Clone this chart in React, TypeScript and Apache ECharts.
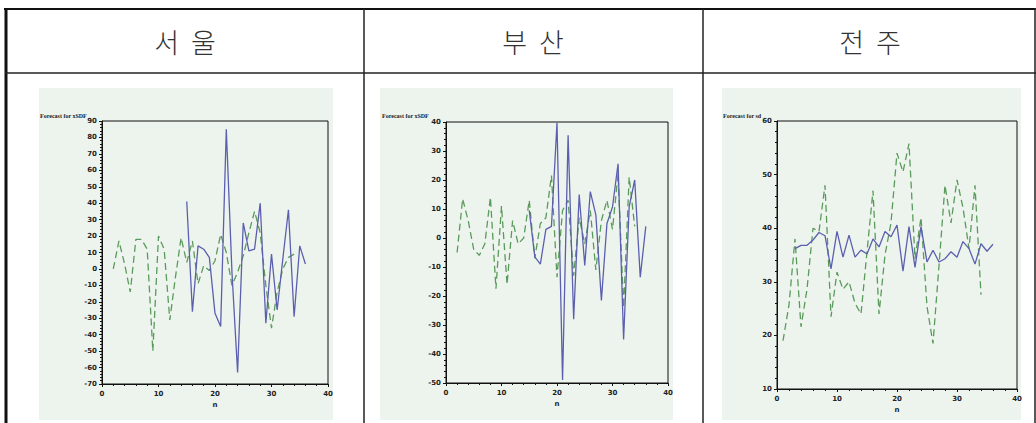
import React, { useEffect, useRef } from "react";
import * as echarts from "echarts";

// ---- data ----
const headers = ["서  울", "부  산", "전  주"];
const plotTitles = ["Forecast for xSDF", "Forecast for xSDF", "Forecast for sd"];

const seoulDashedN = [2, 3, 4, 5, 6, 7, 8, 9, 10, 11, 12, 13, 14, 15, 16, 17, 18, 19, 20, 21, 22, 23, 24, 25, 26, 27, 28, 29, 30, 31, 32, 33, 34];
const seoulDashed = [0, 17, 3, -14, 18, 18, 12, -50, 20, 12, -31, -5, 19, 4, 17, -9, 2, -1, 5, 21, 10, -10, -2, 8, 22, 35, 22, -10, -36, -14, 0, 7, 9];
const seoulSolidN = [15, 16, 17, 18, 19, 20, 21, 22, 23, 24, 25, 26, 27, 28, 29, 30, 31, 32, 33, 34, 35, 36];
const seoulSolid = [41, -26, 14, 12, 7, -27, -35, 85, -2, -63, 28, 11, 12, 40, -33, 9, -25, 6, 36, -29, 14, 3];

const busanDashedN = [2, 3, 4, 5, 6, 7, 8, 9, 10, 11, 12, 13, 14, 15, 16, 17, 18, 19, 20, 21, 22, 23, 24, 25, 26, 27, 28, 29, 30, 31, 32, 33, 34];
const busanDashed = [-5, 13.5, 6, -4, -6, -2, 14, -17.5, 11, -16, 6, -2, 0, 13, -7, 5, 7, 21.5, -13.5, 9.5, 13, -13, 7, -2, 9.5, -11, 6, 13, 3, 22, -24, 21, 4];
const busanSolidN = [15, 16, 17, 18, 19, 20, 21, 22, 23, 24, 25, 26, 27, 28, 29, 30, 31, 32, 33, 34, 35, 36];
const busanSolid = [9.5, -6.5, -9, 3, 4, 39.7, -49, 35.4, -28, 15, -9.5, 16, 8, -21.5, 5, 10.7, 25.6, -35, 10.7, 20, -13.5, 4];

const jeonjuDashedN = [1, 2, 3, 4, 5, 6, 7, 8, 9, 10, 11, 12, 13, 14, 15, 16, 17, 18, 19, 20, 21, 22, 23, 24, 25, 26, 27, 28, 29, 30, 31, 32, 33, 34];
const jeonjuDashed = [19, 25.7, 38, 21.6, 28.6, 40, 39.4, 48, 23.5, 31.8, 28.6, 30, 26, 24, 35.6, 47, 24, 35, 41, 54, 50.5, 55.8, 34.3, 42, 25.4, 18.5, 33, 48, 41, 49, 43.8, 36.2, 48, 27.6];
const jeonjuSolidN = [3, 4, 5, 6, 7, 8, 9, 10, 11, 12, 13, 14, 15, 16, 17, 18, 19, 20, 21, 22, 23, 24, 25, 26, 27, 28, 29, 30, 31, 32, 33, 34, 35, 36];
const jeonjuSolid = [36.2, 36.8, 36.8, 37.8, 39.2, 38.6, 32.4, 39.4, 34.6, 38.7, 34.6, 35.9, 35.2, 38, 36.5, 39.4, 38.4, 40.6, 32, 40.3, 32.7, 40.3, 33.7, 35.9, 33.7, 34.3, 35.6, 34.6, 37.5, 36.2, 33.3, 37.1, 35.7, 37];

const xMin = 0;
const xMax = 40;
const yRanges = [
  { min: -70, max: 90 },
  { min: -50, max: 40 },
  { min: 10, max: 60 },
];

const zip = (n: number[], v: number[]) => n.map((x, i) => [x, v[i]]);

export default function App() {
  const ref = useRef<HTMLDivElement>(null);
  useEffect(() => {
    if (!ref.current) return;
    const chart = echarts.init(ref.current, null, { renderer: "svg" });

    const grids = [
      { left: 102, top: 121, width: 226, height: 263 },
      { left: 446, top: 122, width: 222, height: 261 },
      { left: 777, top: 121, width: 240, height: 268 },
    ];
    const panels = [
      { x: 39, y: 88, w: 294, h: 332 },
      { x: 380, y: 88, w: 293, h: 332 },
      { x: 722, y: 88, w: 299, h: 332 },
    ];
    const titleX = [40, 382, 723];
    const headerX = [185, 533, 870];

    const axisLabel = {
      fontSize: 7,
      fontWeight: "bold" as const,
      fontFamily: "DejaVu Sans",
      color: "#222",
    };

    const graphic: any[] = [];
    panels.forEach((p) => {
      graphic.push({
        type: "rect",
        z: -10,
        silent: true,
        shape: { x: p.x, y: p.y, width: p.w, height: p.h },
        style: { fill: "#edf4ee" },
      });
    });
    // table lines
    graphic.push(
      { type: "line", z: 100, shape: { x1: 4, y1: 9, x2: 1036, y2: 9 }, style: { stroke: "#111", lineWidth: 2 } },
      { type: "line", z: 100, shape: { x1: 6, y1: 8, x2: 6, y2: 423 }, style: { stroke: "#111", lineWidth: 3 } },
      { type: "line", z: 100, shape: { x1: 1035, y1: 8, x2: 1035, y2: 423 }, style: { stroke: "#222", lineWidth: 1.5 } },
      { type: "line", z: 100, shape: { x1: 5, y1: 73, x2: 1036, y2: 73 }, style: { stroke: "#222", lineWidth: 1.5 } },
      { type: "line", z: 100, shape: { x1: 364, y1: 9, x2: 364, y2: 423 }, style: { stroke: "#222", lineWidth: 1.5 } },
      { type: "line", z: 100, shape: { x1: 703, y1: 9, x2: 703, y2: 423 }, style: { stroke: "#222", lineWidth: 1.5 } }
    );
    headers.forEach((h, i) => {
      graphic.push({
        type: "text",
        z: 100,
        x: headerX[i],
        y: 41,
        style: {
          text: h,
          fontSize: 27,
          fontFamily: "Noto Sans CJK KR",
          fontWeight: 300,
          fill: "#333",
          align: "center",
          verticalAlign: "middle",
        },
      });
    });
    plotTitles.forEach((t, i) => {
      graphic.push({
        type: "text",
        z: 100,
        x: titleX[i],
        y: 116,
        style: {
          text: t,
          fontSize: 6,
          fontWeight: "bold",
          fontFamily: "Liberation Serif",
          fill: "#222",
          align: "left",
          verticalAlign: "middle",
        },
      });
    });

    const xAxis = grids.map((_, i) => ({
      type: "value" as const,
      gridIndex: i,
      min: xMin,
      max: xMax,
      interval: 10,
      name: "n",
      nameLocation: "middle" as const,
      nameGap: 17,
      nameTextStyle: { ...axisLabel },
      axisLine: { show: true, onZero: false, lineStyle: { color: "#111", width: 1 } },
      axisTick: { show: true, length: 3, lineStyle: { color: "#111" } },
      minorTick: { show: true, splitNumber: 5, length: 2, lineStyle: { color: "#111", width: 1 } },
      axisLabel: { ...axisLabel, margin: 6 },
      splitLine: { show: false },
    }));

    const yAxis = grids.map((_, i) => ({
      type: "value" as const,
      gridIndex: i,
      min: yRanges[i].min,
      max: yRanges[i].max,
      interval: 10,
      axisLine: { show: true, onZero: false, lineStyle: { color: "#111", width: 1 } },
      axisTick: { show: true, length: 3, lineStyle: { color: "#111" } },
      minorTick: { show: true, splitNumber: 5, length: 2, lineStyle: { color: "#111", width: 1 } },
      axisLabel: { ...axisLabel, margin: 5 },
      splitLine: { show: false },
    }));

    const blue = "#5b5fae";
    const green = "#5a9a5a";
    const dashed = (data: number[][], idx: number) => ({
      type: "line" as const,
      xAxisIndex: idx,
      yAxisIndex: idx,
      data,
      showSymbol: false,
      symbol: "none",
      lineStyle: { color: green, width: 1.3, type: [7, 4] },
      z: 2,
    });
    const solid = (data: number[][], idx: number) => ({
      type: "line" as const,
      xAxisIndex: idx,
      yAxisIndex: idx,
      data,
      showSymbol: false,
      symbol: "none",
      lineStyle: { color: blue, width: 1.3 },
      z: 3,
    });

    chart.setOption({
      animation: false,
      backgroundColor: "#ffffff",
      grid: grids.map((g) => ({
        ...g,
        show: true,
        borderColor: "#111",
        borderWidth: 1,
        backgroundColor: "transparent",
      })),
      xAxis,
      yAxis,
      graphic: { elements: graphic },
      series: [
        dashed(zip(seoulDashedN, seoulDashed), 0),
        solid(zip(seoulSolidN, seoulSolid), 0),
        dashed(zip(busanDashedN, busanDashed), 1),
        solid(zip(busanSolidN, busanSolid), 1),
        dashed(zip(jeonjuDashedN, jeonjuDashed), 2),
        solid(zip(jeonjuSolidN, jeonjuSolid), 2),
      ],
    });
    return () => chart.dispose();
  }, []);

  return (
    <div
      ref={ref}
      style={{ position: "fixed", left: 0, top: 0, width: 1036, height: 423 }}
    />
  );
}
